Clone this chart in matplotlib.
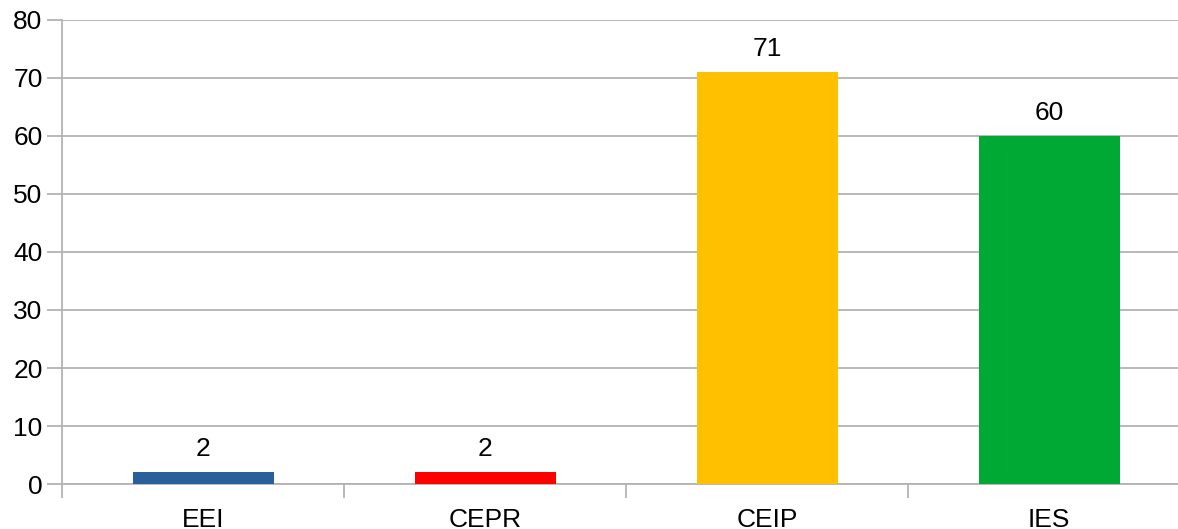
import matplotlib.pyplot as plt
import numpy as np

plt.rcParams['font.family'] = ['Liberation Sans', 'DejaVu Sans']

categories = ["EEI", "CEPR", "CEIP", "IES"]
values = [2, 2, 71, 60]
colors = ["#2a6099", "#ff0000", "#ffc000", "#00a933"]

fig = plt.figure(figsize=(11.78, 5.29), dpi=100)
# plot area runs a little past the right edge, like the source
ax = fig.add_axes([62/1178, 1-484/529, 1128/1178, 464/529])

x = np.arange(len(categories))
bars = ax.bar(x, values, width=0.5, color=colors, zorder=3)
for b, v in zip(bars, values):
    ax.text(b.get_x() + b.get_width()/2, v + 1.9, str(v), ha="center", va="bottom", fontsize=19)

ax.set_xlim(-0.5, len(categories) - 0.5)
ax.set_ylim(0, 80)
ax.set_yticks(range(0, 81, 10))
ax.set_xticks(x)
ax.set_xticklabels(categories)
ax.set_xticks(np.arange(-0.5, len(categories)), minor=True)

gray = "#b3b3b3"
ax.yaxis.grid(True, color=gray, linewidth=1.3, zorder=0)
for s in ["top", "right"]:
    ax.spines[s].set_visible(False)
ax.spines["left"].set_color(gray)
ax.spines["bottom"].set_color(gray)
ax.spines["left"].set_linewidth(1.3)
ax.spines["bottom"].set_linewidth(1.3)
ax.tick_params(axis="y", length=11, width=1.3, color=gray, labelsize=19, pad=3)
ax.tick_params(axis="x", which="major", length=0, labelsize=19, pad=17)
ax.tick_params(axis="x", which="minor", length=10, width=1.3, color=gray)

fig.savefig("out.png", dpi=100)
